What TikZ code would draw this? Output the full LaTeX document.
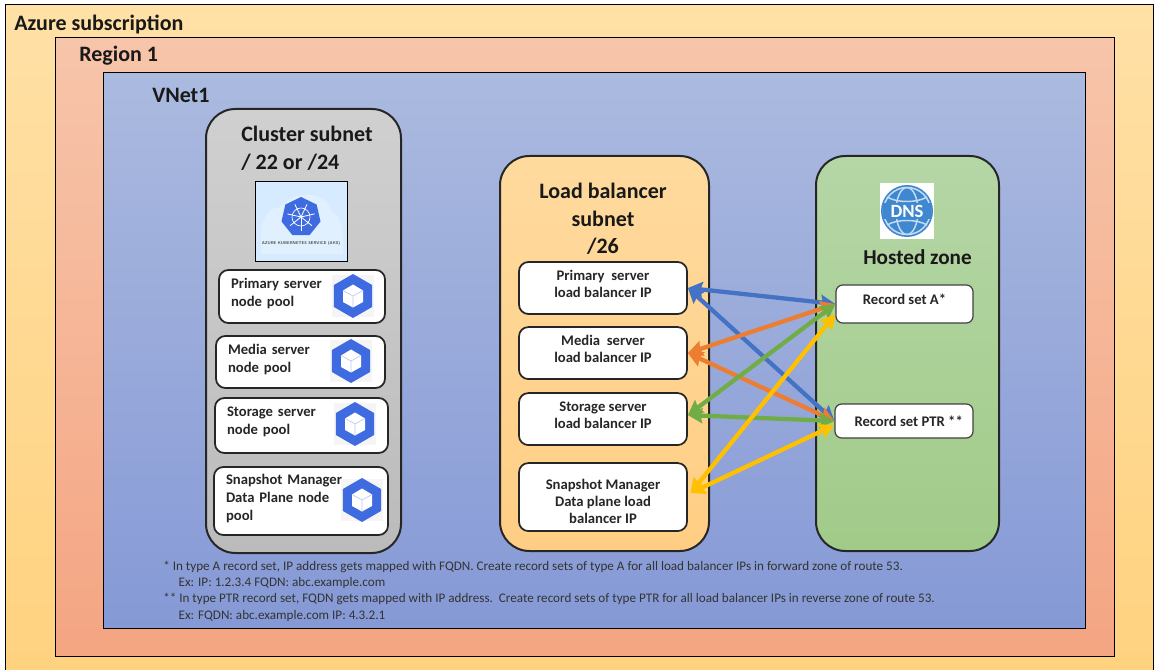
\documentclass[tikz,border=0pt]{standalone}
\usepackage{fontspec}
\setmainfont{Carlito}
\usepackage{tikz}
\usetikzlibrary{arrows,arrows.meta,positioning,shapes.geometric}
\definecolor{iconblue}{HTML}{3F6BE0}
\definecolor{dnsblue}{HTML}{3F88D0}
\definecolor{arrowblue}{HTML}{4472C4}
\definecolor{arroworange}{HTML}{ED7D31}
\definecolor{arrowgreen}{HTML}{70AD47}
\definecolor{arrowyellow}{HTML}{FFC000}
\definecolor{subtop}{HTML}{FFE0A6}
\definecolor{subbottom}{HTML}{FFD27F}
\definecolor{regiontop}{HTML}{F7C5AA}
\definecolor{regionbottom}{HTML}{F4A582}
\definecolor{vnettop}{HTML}{ABBADF}
\definecolor{vnetbottom}{HTML}{8599D6}
\definecolor{graytop}{HTML}{D0D0D0}
\definecolor{graybottom}{HTML}{BBBBBB}
\definecolor{lbtop}{HTML}{FFDA9E}
\definecolor{lbbottom}{HTML}{FFCE84}
\definecolor{hostedtop}{HTML}{B5D6A6}
\definecolor{hostedbottom}{HTML}{A1CB89}
\tikzset{
    boxsize/.style 2 args={minimum width=#1*0.75pt, minimum height=#2*0.75pt},
    framebox/.style={rectangle, draw=black, line width=0.75pt, inner sep=0pt},
    zonebox/.style={rectangle, rounded corners=22pt, draw=black!85, line width=1.5pt, inner sep=0pt},
    poolbox/.style 2 args={rectangle, rounded corners=7pt, draw=black!85, fill=white, line width=1.3pt, inner xsep=9pt, inner ysep=0pt, boxsize={#1}{#2}, text width=#1*0.75pt-18pt, align=left, font=\bfseries\fontsize{11}{13.4}\selectfont, text=black!85},
    lbbox/.style={rectangle, rounded corners=7pt, draw=black!85, fill=white, line width=1.3pt, inner sep=0pt, boxsize={168}{52}, align=center, font=\bfseries\fontsize{11}{12.8}\selectfont, text=black!85},
    recbox/.style={rectangle, rounded corners=5pt, draw=black!75, fill=white, line width=0.9pt, inner sep=0pt, align=center, font=\bfseries\fontsize{11}{12.8}\selectfont, text=black!85},
    nudge/.style={text depth=#1},
    titlelabel/.style={inner sep=0pt, font=\bfseries\fontsize{16.5}{20.6}\selectfont, text=black!90},
    notelabel/.style={inner sep=0pt, align=left, font=\fontsize{9.85}{12.2}\selectfont, text=black!80},
    myarrow/.style={{Stealth[length=11pt,width=11.5pt,inset=1.5pt]}-{Stealth[length=11pt,width=11.5pt,inset=1.5pt]}, line width=3.2pt, draw=#1},
    cubeicon/.pic={
        \fill[black!4] (-21,-21) rectangle (21,21);
        \node[regular polygon, regular polygon sides=6, shape border rotate=30, fill=iconblue, inner sep=0pt, minimum size=33pt] (-hex) at (0,0) {};
        \fill[white] (0,-11.5) -- (10,-5.5) -- (10,6) -- (0,11.5) -- (-10,6) -- (-10,-5.5) -- cycle;
        \draw[iconblue!35, line width=0.5pt] (-10,-5.5) -- (0,0) -- (10,-5.5) (0,0) -- (0,11.5);
    }
}
\begin{document}
\begin{tikzpicture}[x=0.75pt, y=-0.75pt]
\clip (0,0) rectangle (1157,670);
% nested frames
\node[framebox, boxsize={1148}{670}, top color=subtop, bottom color=subbottom] (subscription) at (579,340) {};
\node[framebox, boxsize={1059}{618}, top color=regiontop, bottom color=regionbottom] (region) at (584.5,347) {};
\node[framebox, boxsize={982}{555}, top color=vnettop, bottom color=vnetbottom] (vnet) at (594,350.5) {};
\node[titlelabel, anchor=west] (subscriptionlabel) at (14,24) {Azure subscription};
\node[titlelabel, anchor=west] (regionlabel) at (79,56) {Region 1};
\node[titlelabel, anchor=west] (vnetlabel) at (152,95) {VNet1};

% subnets
\node[zonebox, boxsize={195}{444}, top color=graytop, bottom color=graybottom] (cluster) at (303.5,331) {};
\node[zonebox, boxsize={209}{395}, top color=lbtop, bottom color=lbbottom] (lbsubnet) at (604.5,353.5) {};
\node[zonebox, boxsize={183}{395}, top color=hostedtop, bottom color=hostedbottom] (hosted) at (907.5,353.5) {};
\node[titlelabel, anchor=north west, align=left] (clusterlabel) at (241,126) {Cluster subnet\\/ 22 or /24};
\node[titlelabel, anchor=north, align=center] (lblabel) at (603,183) {Load balancer\\subnet\\/26};
\node[titlelabel, anchor=west, font=\bfseries\fontsize{15.9}{20}\selectfont] (hostedlabel) at (863,257) {Hosted zone};

% aks tile
\node[framebox, boxsize={92}{80}, fill=blue!50!cyan!16!white] (akstile) at (301,222) {};
\fill[white, opacity=0.25] (261,254) .. controls (258,215) and (270,208) .. (280,207) .. controls (295,190) and (325,190) .. (332,212) .. controls (343,215) and (344,240) .. (343,254) -- cycle;
\node[regular polygon, regular polygon sides=7, fill=iconblue, inner sep=0pt, minimum size=30pt] (akswheel) at (301,217) {};
\draw[white, line width=0.5pt] (301,217) circle (9);
\foreach \a in {90,141.4,...,400} {
    \draw[white, line width=0.6pt] (301,217) -- ++(\a:14);
}
\node[inner sep=0pt, font=\bfseries\sffamily\fontsize{3.1}{4}\selectfont, text=black!70] (akstext) at (301,243) {AZURE KUBERNETES SERVICE (AKS)};

% node pools
\node[poolbox={166}{53}, nudge=19pt] (primarypool) at (302,296.5) {Primary server\\node pool};
\node[poolbox={169}{52}, nudge=19pt] (mediapool) at (300.5,362) {Media server\\node pool};
\node[poolbox={173}{55}, nudge=20.5pt] (storagepool) at (301.5,425.5) {Storage server\\node pool};
\node[poolbox={174}{68}, nudge=32pt] (snapshotpool) at (301,501) {Snapshot Manager\\Data Plane node\\pool};
\pic at (353,296) {cubeicon};
\pic at (351,361) {cubeicon};
\pic at (355,424) {cubeicon};
\pic at (362,500) {cubeicon};

% load balancer ips
\node[lbbox, nudge=6pt] (lbprimary) at (603,288) {Primary\ \ server\\load balancer IP};
\node[lbbox, nudge=6pt, below=8.5pt of lbprimary] (lbmedia) {Media\ \ server\\load balancer IP};
\node[lbbox, nudge=6pt, below=9.2pt of lbmedia] (lbstorage) {Storage server\\load balancer IP};
\node[lbbox, boxsize={168}{68}, text height=40pt, below=12.2pt of lbstorage] (lbsnapshot) {Snapshot Manager\\Data plane load\\balancer IP};

% dns icon and records
\node[rectangle, fill=white, inner sep=0pt, boxsize={54}{56}] (dnstile) at (907,211) {};
\fill[dnsblue] (907,211) circle (26);
\draw[white!70!dnsblue, line width=1.1pt] (907,211) circle (23.5);
\draw[white!70!dnsblue, line width=1.1pt] (907,211) ellipse (11 and 23.5);
\draw[white!70!dnsblue, line width=1.1pt] (887,197) .. controls (897,203) and (917,203) .. (927,197);
\draw[white!70!dnsblue, line width=1.1pt] (887,225) .. controls (897,219) and (917,219) .. (927,225);
\fill[dnsblue] (883,203) rectangle (931,219);
\node[inner sep=0pt, font=\bfseries\fontsize{14}{16}\selectfont, text=white] (dnstext) at (907,211) {DNS};
\node[recbox, boxsize={137}{38}, nudge=7pt] (recorda) at (904.5,304) {Record set A*};
\node[recbox, boxsize={138}{34}] (recordptr) at (904,421) {\hspace{7pt}Record set PTR **};

% mappings
\draw[myarrow=arrowblue] (lbprimary.east) -- (recorda.west);
\draw[myarrow=arrowblue] (lbprimary.east) -- (recordptr.west);
\draw[myarrow=arroworange] (lbmedia.east) -- (recorda.west);
\draw[myarrow=arroworange] (lbmedia.east) -- (recordptr.west);
\draw[myarrow=arrowgreen] ([yshift=3pt]lbstorage.east) -- (recorda.west);
\draw[myarrow=arrowgreen] ([yshift=3pt]lbstorage.east) -- (recordptr.west);
\draw[myarrow=arrowyellow] ([xshift=2pt,yshift=3pt]lbsnapshot.east) -- ([yshift=-7.5pt]recorda.west);
\draw[myarrow=arrowyellow] ([xshift=2pt,yshift=3pt]lbsnapshot.east) -- ([yshift=-3pt]recordptr.west);

% notes
\node[notelabel, anchor=north west] (notes) at (163,560.7) {* In type A record set, IP address gets mapped with FQDN. Create record sets of type A for all load balancer IPs in forward zone of route 53.\\
\hspace*{11.5pt}Ex: IP: 1.2.3.4 FQDN: abc.example.com\\
** In type PTR record set, FQDN gets mapped with IP address.\ \ Create record sets of type PTR for all load balancer IPs in reverse zone of route 53.\\
\hspace*{11.5pt}Ex: FQDN: abc.example.com IP: 4.3.2.1};
\end{tikzpicture}
\end{document}
